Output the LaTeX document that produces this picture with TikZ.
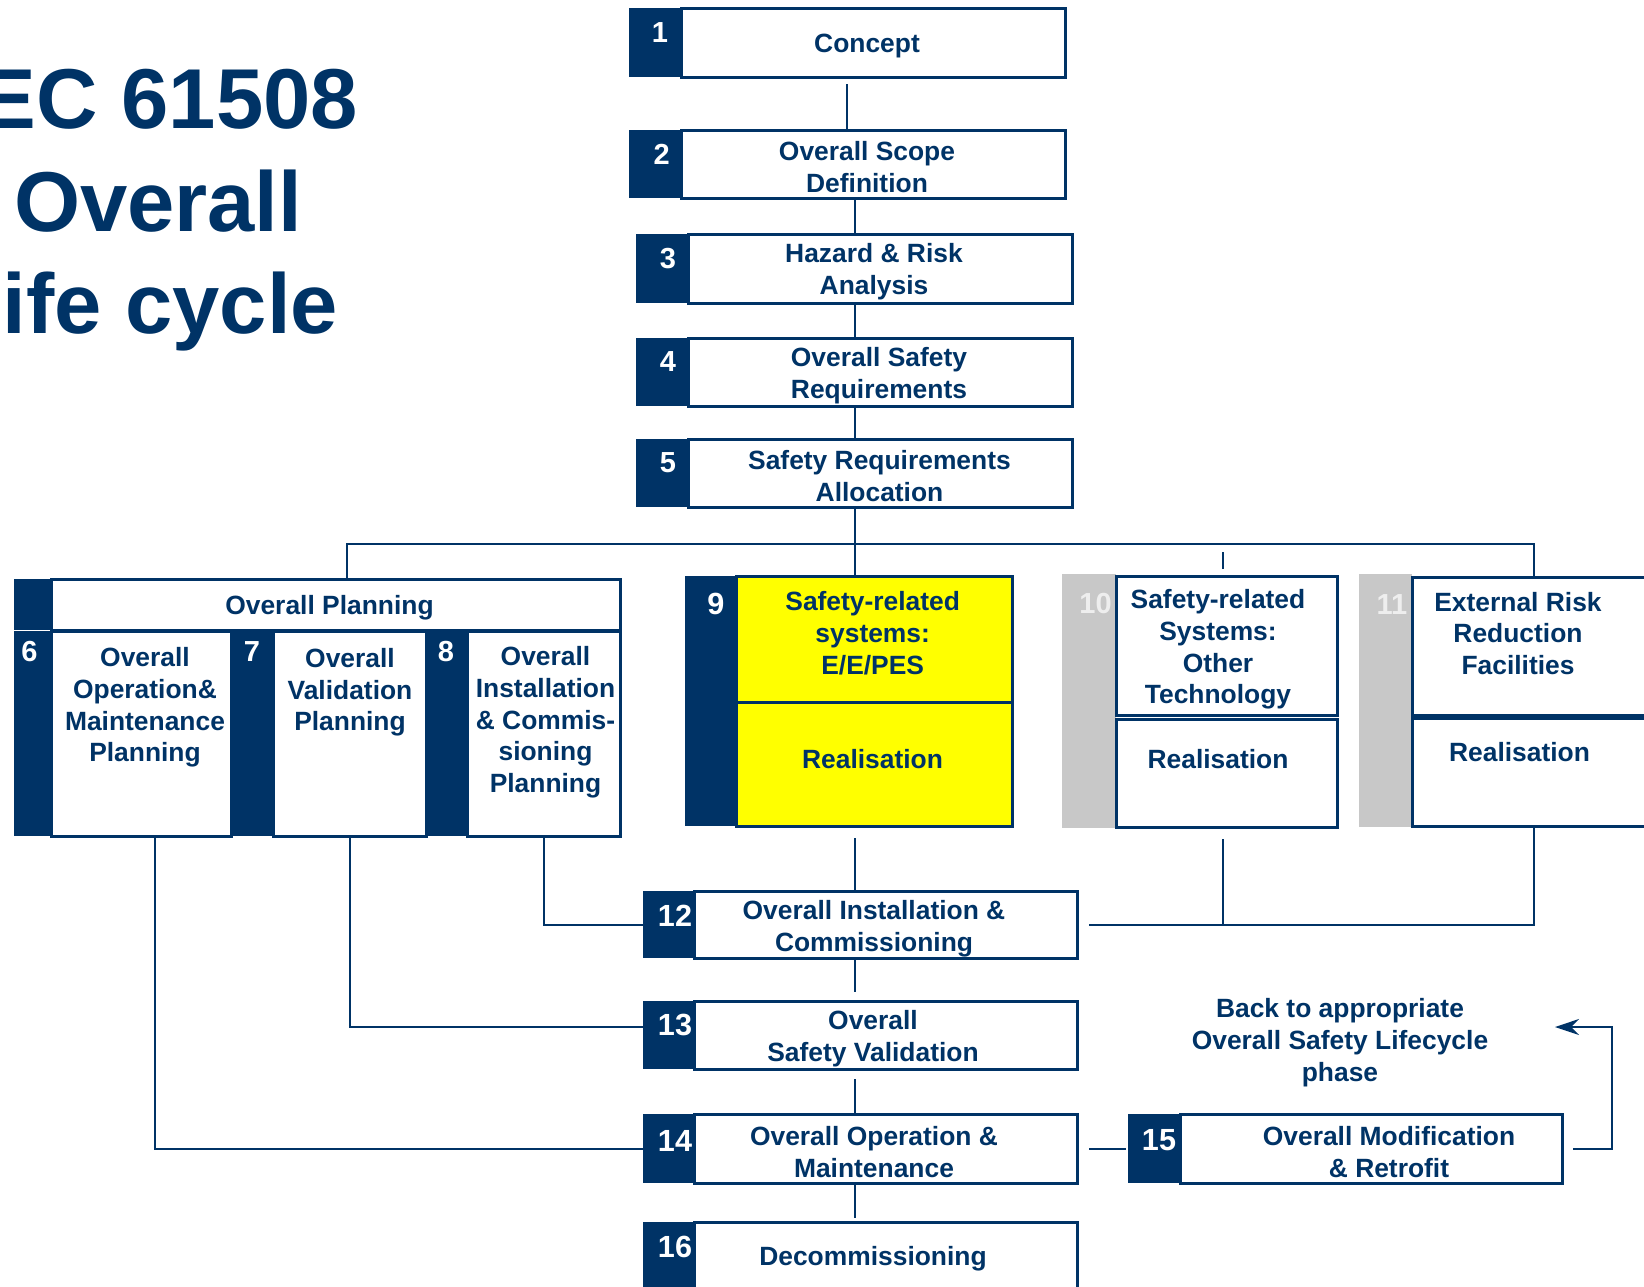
\documentclass[tikz,border=0pt]{standalone}
\usepackage{fontspec}
\setmainfont{Liberation Sans}
\usetikzlibrary{arrows.meta,calc}
\definecolor{navy}{HTML}{003366}
\definecolor{stripgrey}{HTML}{C8C8C8}
\definecolor{hilite}{HTML}{FFFF00}
\definecolor{faint}{HTML}{EEEEEE}

% rectangle node given by its corners: style, name, x1, y1, x2, y2
\newcommand\placebox[6]{%
  \node[#1,minimum width={(#5-#3)*0.5pt},minimum height={(#6-#4)*0.5pt}]
    (#2) at ({(#3+#5)/2},{(#4+#6)/2}) {};}

\begin{document}
\begin{tikzpicture}[x=0.5pt,y=-0.5pt,
  every node/.style={inner sep=0pt,outer sep=0pt},
  frame/.style={rectangle,draw=navy,line width=1.5pt,fill=white},
  yframe/.style={frame,fill=hilite},
  band/.style={rectangle,fill=navy},
  greyband/.style={rectangle,fill=stripgrey},
  single/.style={text=navy,font=\bfseries\fontsize{13.2}{15.9}\selectfont,align=center},
  caption/.style={single,yshift=-1.2pt},
  numtext/.style={text=white,font=\bfseries\fontsize{14.5}{15}\selectfont},
  bignum/.style={text=white,font=\bfseries\fontsize{15.3}{16}\selectfont},
  greynum/.style={numtext,text=faint},
  heading/.style={text=navy,font=\bfseries\fontsize{42.5}{50}\selectfont},
  conn/.style={draw=navy,line width=1pt},
]
\useasboundingbox (0,0) rectangle (1644,1286);

% ---------- title ----------
\node[heading,anchor=base east] (title1) at (358,128) {IEC 61508};
\node[heading,anchor=base west] (title2) at (14,231) {Overall};
\node[heading,anchor=base east] (title3) at (338,333) {Life cycle};

% ---------- phases 1-5 ----------
\placebox{band}{s1}{629}{8}{681}{77}
\placebox{frame}{b1}{681}{8}{1065}{77}
\placebox{band}{s2}{629}{130}{681}{198}
\placebox{frame}{b2}{681}{130}{1065}{198}
\placebox{band}{s3}{636}{234}{688}{303}
\placebox{frame}{b3}{688}{234}{1072}{303}
\placebox{band}{s4}{636}{338}{688}{406}
\placebox{frame}{b4}{688}{338}{1072}{406}
\placebox{band}{s5}{636}{439}{688}{507}
\placebox{frame}{b5}{688}{439}{1072}{507}

% ---------- overall planning 6-8 ----------
\placebox{band}{sOP}{14}{579}{51}{630}
\placebox{frame}{bOP}{51}{579}{620}{630}
\placebox{band}{s6}{14}{631}{51}{836}
\placebox{frame}{b6}{51}{631}{231}{836}
\placebox{band}{s7}{231}{631}{273}{836}
\placebox{frame}{b7}{273}{631}{426}{836}
\placebox{band}{s8}{426}{631}{467}{836}
\placebox{frame}{b8}{467}{631}{620}{836}

% ---------- realisation 9-11 ----------
\placebox{band}{s9}{685}{576}{736}{826}
\placebox{yframe}{b9a}{736}{576}{1012}{702}
\placebox{yframe}{b9b}{736}{702}{1012}{826}
\placebox{greyband}{s10}{1062}{574}{1116}{828}
\placebox{frame}{b10a}{1116}{576}{1337}{715}
\placebox{frame}{b10b}{1116}{719}{1337}{827}
\placebox{greyband}{s11}{1359}{574}{1412}{827}
\placebox{frame}{b11a}{1412}{577}{1680}{715}
\placebox{frame}{b11b}{1412}{718}{1680}{826}

% ---------- phases 12-16 ----------
\placebox{band}{s12}{643}{891}{694}{958}
\placebox{frame}{b12}{694}{891}{1077}{958}
\placebox{band}{s13}{643}{1001}{694}{1069}
\placebox{frame}{b13}{694}{1001}{1077}{1069}
\placebox{band}{s14}{643}{1114}{694}{1183}
\placebox{frame}{b14}{694}{1114}{1077}{1183}
\placebox{band}{s15}{1128}{1114}{1180}{1183}
\placebox{frame}{b15}{1180}{1114}{1562}{1183}
\placebox{band}{s16}{643}{1222}{694}{1300}
\placebox{frame}{b16}{694}{1222}{1077}{1300}

% ---------- phase numbers ----------
\node[numtext] (n1) at (660,33) {1};
\node[numtext] (n2) at (661.7,154.5) {2};
\node[numtext] (n3) at (668,259) {3};
\node[numtext] (n4) at (668,362) {4};
\node[numtext] (n5) at (668,462.5) {5};
\node[numtext] (n6) at (29.5,651.7) {6};
\node[numtext] (n7) at (252,652) {7};
\node[numtext] (n8) at (446,652) {8};
\node[bignum] (n9) at (716,604) {9};
\node[greynum] (n10) at (1095.5,603.5) {10};
\node[greynum] (n11) at (1392,604.5) {11};
\node[bignum] (n12) at (675,916) {12};
\node[bignum] (n13) at (675,1025) {13};
\node[bignum] (n14) at (675,1140.5) {14};
\node[bignum] (n15) at (1159,1140) {15};
\node[bignum] (n16) at (675,1246.5) {16};

% ---------- phase texts ----------
\node[caption] (t1) at (867,44) {Concept};
\node[caption] (t2) at (867,164.5) {Overall Scope\\Definition};
\node[caption] (t3) at (874,269) {Hazard \& Risk\\Analysis};
\node[caption] (t4) at (879,373) {Overall Safety\\Requirements};
\node[caption] (t5) at (879.5,474) {Safety Requirements\\Allocation};
\node[caption] (tOP) at (329.5,605) {Overall Planning};
\node[caption] (t6) at (145,705) {Overall\\Operation\&\\Maintenance\\Planning};
\node[caption] (t7) at (350,690) {Overall\\Validation\\Planning};
\node[caption] (t8) at (545.5,720) {Overall\\Installation\\\& Commis-\\sioning\\Planning};
\node[caption] (t9a) at (872.7,631) {Safety-related\\systems:\\E/E/PES};
\node[single] (t9b) at (872.5,759) {Realisation};
\node[caption] (t10a) at (1218,647) {Safety-related\\Systems:\\Other\\Technology};
\node[single] (t10b) at (1218,759) {Realisation};
\node[caption] (t11a) at (1518,631) {External Risk\\Reduction\\Facilities};
\node[single] (t11b) at (1519.5,752.5) {Realisation};
\node[caption] (t12) at (874,926) {Overall Installation \&\\Commissioning};
\node[caption] (t13) at (873,1036) {Overall\\Safety Validation};
\node[caption] (t14) at (874,1150) {Overall Operation \&\\Maintenance};
\node[caption] (t15) at (1389,1150) {Overall Modification\\\& Retrofit};
\node[caption] (t16) at (873,1256) {Decommissioning};
\node[caption] (back) at (1340,1040) {Back to appropriate\\Overall Safety Lifecycle\\phase};

% ---------- connectors ----------
\coordinate (spineA) at (847,0);
\coordinate (spine) at (855,0);
\coordinate (busL) at (347,544);
\coordinate (busR) at (1534,544);
\coordinate (tenx) at (1223,0);
\coordinate (backtip) at (1555,1027);

\draw[conn,shorten <=3.5pt] (b1.south -| spineA) -- (b2.north -| spineA);
\draw[conn] (b2.south -| spine) -- (b3.north -| spine);
\draw[conn] (b3.south -| spine) -- (b4.north -| spine);
\draw[conn] (b4.south -| spine) -- (b5.north -| spine);
\draw[conn] (b5.south -| spine) -- (b9a.north -| spine);
\draw[conn] (bOP.north -| busL) -- (busL) -- (busR) -- (b11a.north -| busR);
\draw[conn] ($(b10a.north -| tenx)+(0,-7)$) -- ($(b10a.north -| tenx)+(0,-24)$);

\draw[conn,shorten <=6pt] (b9b.south -| spine) -- (b12.north -| spine);
\draw[conn,shorten <=6pt] (b10b.south -| tenx) -- (tenx |- b12.east);
\draw[conn] (b11b.south -| busR) |- ([xshift=6pt]b12.east);
\draw[conn] (b8.south) |- (s12.west);
\draw[conn] (b7.south) |- ([yshift=4pt]s13.west);
\draw[conn] ([xshift=7pt]b6.south) |- (s14.west);

\draw[conn,shorten >=4.5pt] (b12.south -| spine) -- (b13.north -| spine);
\draw[conn,shorten <=5pt] (b13.south -| spine) -- (b14.north -| spine);
\draw[conn,shorten >=2pt] (b14.south -| spine) -- (b16.north -| spine);
\draw[conn] ([xshift=6pt]b14.east) -- ([xshift=-1pt]s15.west);
\draw[conn,-{Stealth[length=12pt,width=8pt,inset=4pt]}]
  ([xshift=5.5pt]b15.east) -- ([xshift=25pt]b15.east) |- (backtip);
\end{tikzpicture}
\end{document}
